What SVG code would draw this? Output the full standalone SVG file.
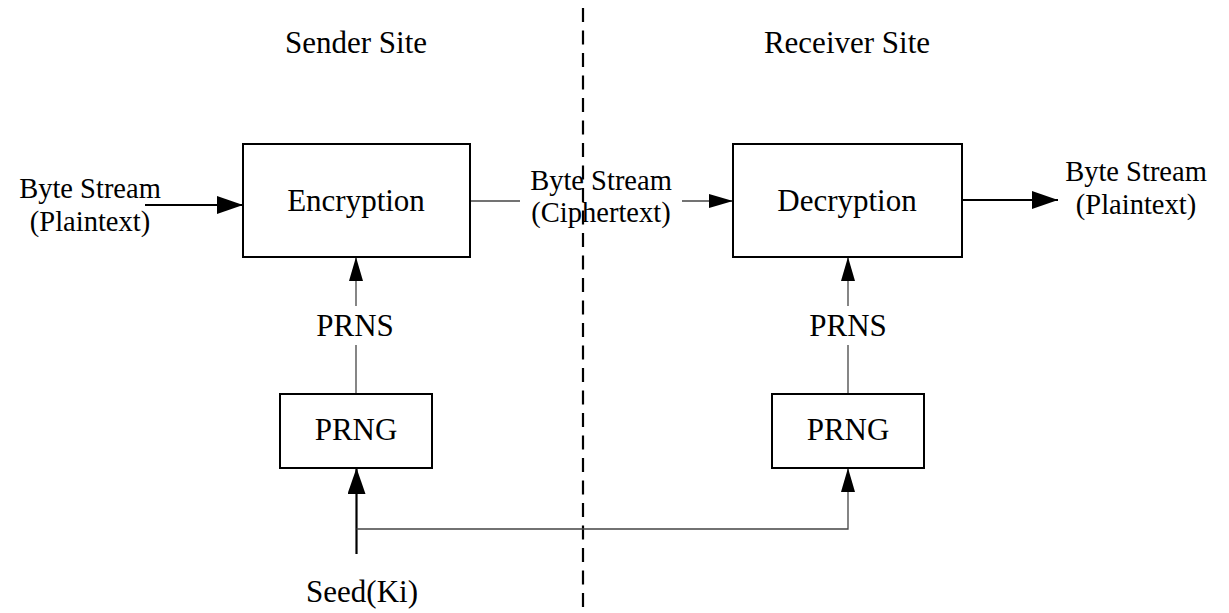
<svg xmlns="http://www.w3.org/2000/svg" width="1229" height="613" viewBox="0 0 1229 613">
<style>
text{font-family:"Liberation Serif","Times New Roman",serif;font-size:31px;fill:#000;text-anchor:middle}
.two{font-size:28.5px}
.box{fill:#fff;stroke:#000;stroke-width:2}
.thin{fill:none;stroke:#444;stroke-width:1.3}
.thick{fill:none;stroke:#000;stroke-width:2.2}
.dash{fill:none;stroke:#000;stroke-width:2.2;stroke-dasharray:14 8.5}
</style>
<defs>
<marker id="ah" markerUnits="userSpaceOnUse" viewBox="0 0 26 18" markerWidth="26" markerHeight="18" refX="26" refY="9" orient="auto">
<path d="M0,0 L26,9 L0,18 Z" fill="#000"/>
</marker>
<marker id="ahs" markerUnits="userSpaceOnUse" viewBox="0 0 24 14" markerWidth="24" markerHeight="14" refX="24" refY="7" orient="auto">
<path d="M0,0 L24,7 L0,14 Z" fill="#000"/>
</marker>
</defs>
<rect width="1229" height="613" fill="#fff"/>
<g id="divider">
<line class="dash" x1="583" y1="8" x2="583" y2="613"/>
</g>
<g id="titles">
<text x="356" y="53">Sender Site</text>
<text x="847" y="53">Receiver Site</text>
</g>
<g id="connectors">
<line class="thick" x1="145" y1="205" x2="243" y2="205" marker-end="url(#ah)"/>
<line class="thin" x1="470" y1="201" x2="520" y2="201"/>
<line class="thin" x1="682" y1="201" x2="733" y2="201" marker-end="url(#ahs)"/>
<line class="thick" x1="962" y1="200" x2="1058" y2="200" marker-end="url(#ah)"/>
<line class="thin" x1="356" y1="394" x2="356" y2="345"/>
<line class="thin" x1="356" y1="306" x2="356" y2="257" marker-end="url(#ahs)"/>
<line class="thin" x1="848" y1="394" x2="848" y2="345"/>
<line class="thin" x1="848" y1="306" x2="848" y2="257" marker-end="url(#ahs)"/>
<line class="thick" x1="356.5" y1="554" x2="356.5" y2="468" marker-end="url(#ah)"/>
<polyline class="thin" points="356.5,529 848,529 848,468" marker-end="url(#ahs)"/>
</g>
<g id="input-label">
<text class="two" x="90" y="198">Byte Stream</text>
<text class="two" x="90" y="231">(Plaintext)</text>
</g>
<g id="cipher-label">
<text class="two" x="601" y="190">Byte Stream</text>
<text class="two" x="601" y="222">(Ciphertext)</text>
</g>
<g id="output-label">
<text class="two" x="1136" y="181">Byte Stream</text>
<text class="two" x="1136" y="214">(Plaintext)</text>
</g>
<g id="encryption">
<rect class="box" x="243" y="144" width="227" height="113"/>
<text x="356" y="211">Encryption</text>
</g>
<g id="decryption">
<rect class="box" x="733" y="144" width="229" height="113"/>
<text x="847" y="211">Decryption</text>
</g>
<g id="prns-left"><text x="355" y="336">PRNS</text></g>
<g id="prns-right"><text x="848" y="336">PRNS</text></g>
<g id="prng-left">
<rect class="box" x="280" y="394" width="152" height="74"/>
<text x="356" y="440">PRNG</text>
</g>
<g id="prng-right">
<rect class="box" x="772" y="394" width="152" height="74"/>
<text x="848" y="440">PRNG</text>
</g>
<g id="seed"><text x="362" y="602">Seed(Ki)</text></g>
</svg>
